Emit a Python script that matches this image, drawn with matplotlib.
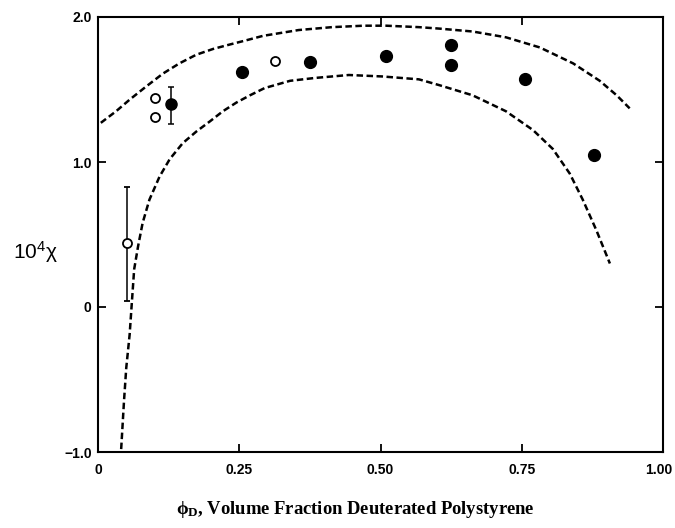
import matplotlib
matplotlib.use("Agg")
import matplotlib.pyplot as plt
from matplotlib.transforms import ScaledTranslation

plt.rcParams['mathtext.fontset'] = 'custom'
plt.rcParams['mathtext.rm'] = 'Liberation Serif:bold'
plt.rcParams['mathtext.it'] = 'Liberation Serif:bold'
plt.rcParams['mathtext.bf'] = 'Liberation Serif:bold'
plt.rcParams['mathtext.sf'] = 'Liberation Sans'

# Open-circle data with error bar
open_err_x = [0.052]
open_err_y = [0.44]
open_err_lo = [0.40]
open_err_hi = [0.39]

# Open circles without error bars
open_x = [0.100, 0.100, 0.314]
open_y = [1.44, 1.31, 1.70]

# Filled circle with error bar
fill_err_x = [0.129]
fill_err_y = [1.40]
fill_err_lo = [0.14]
fill_err_hi = [0.12]

# Filled circles
fill_x = [0.254, 0.375, 0.510, 0.625, 0.625, 0.755, 0.877]
fill_y = [1.62, 1.69, 1.73, 1.81, 1.67, 1.57, 1.05]

# Upper dashed bound
upper_x = [0.005, 0.032, 0.056, 0.085, 0.115, 0.144, 0.174, 0.204, 0.233,
           0.263, 0.292, 0.355, 0.414, 0.470, 0.510, 0.568, 0.604, 0.663,
           0.722, 0.782, 0.841, 0.888, 0.918, 0.941]
upper_y = [1.27, 1.35, 1.43, 1.52, 1.61, 1.68, 1.74, 1.78, 1.81,
           1.84, 1.87, 1.91, 1.93, 1.94, 1.94, 1.93, 1.92, 1.90,
           1.86, 1.79, 1.68, 1.56, 1.46, 1.37]

# Lower dashed bound
lower_x = [0.041, 0.046, 0.050, 0.056, 0.059, 0.064, 0.071, 0.079, 0.091,
           0.109, 0.127, 0.150, 0.174, 0.198, 0.221, 0.245, 0.269, 0.295,
           0.340, 0.385, 0.444, 0.503, 0.568, 0.604, 0.663, 0.722, 0.770,
           0.805, 0.835, 0.858, 0.882, 0.906]
lower_y = [-0.98, -0.65, -0.42, -0.19, -0.02, 0.26, 0.42, 0.58, 0.74,
           0.90, 1.02, 1.13, 1.21, 1.28, 1.35, 1.41, 1.46, 1.51,
           1.56, 1.58, 1.60, 1.59, 1.57, 1.53, 1.46, 1.35, 1.22,
           1.09, 0.92, 0.74, 0.53, 0.30]

x_ticks = [0, 0.25, 0.50, 0.75, 1.00]
x_tick_labels = ['0', '0.25', '0.50', '0.75', '1.00']
y_ticks = [-1.0, 0, 1.0, 2.0]
y_tick_labels = ['\u22121.0', '0', '1.0', '2.0']

fig = plt.figure(figsize=(6.75, 5.28), dpi=100)
ax = fig.add_axes([98/675, 1 - 452/528, (663-98)/675, (452-17)/528])

dash = (2.6, 1.4)
ax.plot(upper_x, upper_y, color='black', lw=1.8, linestyle=(0, dash),
        dash_joinstyle='round')
ax.plot(lower_x, lower_y, color='black', lw=1.8, linestyle=(0, dash),
        dash_joinstyle='round')

ax.errorbar(open_err_x, open_err_y, yerr=[open_err_lo, open_err_hi], fmt='o',
            mfc='white', mec='black', mew=1.3, ms=6.5, ecolor='black',
            elinewidth=1.1, capsize=2.5, capthick=1.1, zorder=3)
ax.plot(open_x, open_y, 'o', mfc='white', mec='black', mew=1.3, ms=6.5, zorder=3)
ax.errorbar(fill_err_x, fill_err_y, yerr=[fill_err_lo, fill_err_hi], fmt='o',
            mfc='black', mec='black', ms=8, ecolor='black',
            elinewidth=1.1, capsize=2.5, capthick=1.1, zorder=3)
ax.plot(fill_x, fill_y, 'o', color='black', ms=8.5, zorder=3)

ax.set_xlim(0, 1.0)
ax.set_ylim(-1.0, 2.0)
ax.set_xticks(x_ticks)
ax.set_xticklabels(x_tick_labels)
ax.set_yticks(y_ticks)
ax.set_yticklabels(y_tick_labels)

for s in ax.spines.values():
    s.set_linewidth(1.5)

ax.tick_params(direction='in', length=6, width=1.3, top=True, right=True,
               labelsize=10)
for lab in ax.get_xticklabels() + ax.get_yticklabels():
    lab.set_fontfamily('Liberation Sans')
    lab.set_fontweight('bold')
ax.tick_params(axis='x', pad=8)
ax.tick_params(axis='y', pad=4.5)

# keep the last x tick label inside the canvas
last = ax.get_xticklabels()[-1]
last.set_transform(last.get_transform() + ScaledTranslation(-4/100, 0, fig.dpi_scale_trans))

fig.text(13/675, 1 - 252/528, r'$\mathsf{10^4\chi}$', fontsize=15,
         ha='left', va='center')

fig.text(355/675, 1 - 509/528, r'$\phi_{\rm D}$, Volume Fraction Deuterated Polystyrene',
         fontsize=13.4, fontfamily='Liberation Serif', fontweight='bold',
         ha='center', va='center')

fig.savefig('out.png', dpi=100)
